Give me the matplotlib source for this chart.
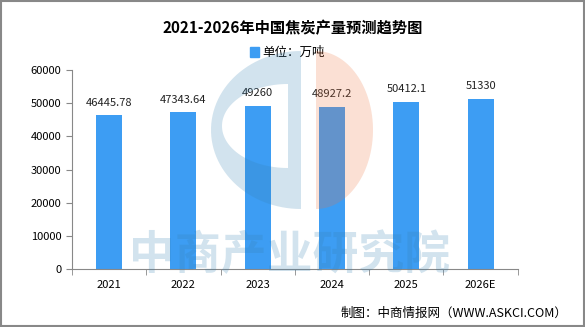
import numpy as np
import matplotlib.pyplot as plt
from matplotlib.patches import Rectangle, Polygon, PathPatch
from matplotlib.path import Path

plt.rcParams['font.family'] = ['Noto Sans CJK SC', 'DejaVu Sans']

years = ['2021', '2022', '2023', '2024', '2025', '2026E']
output = [46445.78, 47343.64, 49260, 48927.2, 50412.1, 51330]
labels = ['46445.78', '47343.64', '49260', '48927.2', '50412.1', '51330']

fig = plt.figure(figsize=(5.85, 3.27), dpi=100)
ax = fig.add_axes([0.123, 0.177, 0.762, 0.609])

x = list(range(len(years)))
ax.bar(x, output, width=0.35, color='#3d9df3', zorder=2)
for xi, v, t in zip(x, output, labels):
    ax.text(xi, v + 2200, t, ha='center', va='bottom', fontsize=8, color='#222222')

ax.set_xlim(-0.5, len(years) - 0.5)
ax.set_ylim(0, 60000)
ax.set_yticks(range(0, 60001, 10000))
ax.set_xticks(x)
ax.set_xticklabels(years, fontsize=8)
ax.set_xticks([i - 0.5 for i in range(len(years) + 1)], minor=True)
ax.tick_params(axis='x', which='major', length=0, pad=8)
ax.tick_params(axis='x', which='minor', length=4, color='#888888')
ax.tick_params(axis='y', labelsize=8, length=4, color='#888888')
for s in ['top', 'right']:
    ax.spines[s].set_visible(False)
ax.spines['left'].set_color('#888888')
ax.spines['bottom'].set_color('#888888')

# watermark logo + text, drawn on top in pixel coords
wm = fig.add_axes([0, 0, 1, 1], zorder=5)
wm.set_xlim(0, 585)
wm.set_ylim(327, 0)
wm.axis('off')
wm.patch.set_alpha(0)

blue = (52/255, 129/255, 178/255)
orange = (237/255, 115/255, 61/255)
t1 = np.linspace(np.pi/2, 3*np.pi/2, 60)
outer = np.column_stack([301 + 90*np.cos(t1), 130 - 79*np.sin(t1)])
outer = np.vstack([outer, [[301, 130 - 79*np.sin(t1[0])]]])
t2 = t1[::-1]
inner = np.column_stack([288 + 66*np.cos(t2), 126 - 42*np.sin(t2)])
inner = np.vstack([inner, inner[:1]])
verts = np.vstack([outer, inner])
codes = ([Path.MOVETO] + [Path.LINETO] * (len(outer) - 1) +
         [Path.MOVETO] + [Path.LINETO] * (len(inner) - 1))
wm.add_patch(PathPatch(Path(verts, codes), facecolor=blue, alpha=0.22, lw=0))
t3 = np.linspace(np.pi/2, -np.pi/2, 60)
half = np.column_stack([316 + 57*np.cos(t3), 130 - 79*np.sin(t3)])
wm.add_patch(Polygon(half, closed=True, facecolor=orange, alpha=0.22, lw=0))
wm.text(290, 256, '中商产业研究院', ha='center', va='center', fontsize=33,
        color=blue, alpha=0.22, fontweight='bold')

fig.text(0.5, 0.915, '2021-2026年中国焦炭产量预测趋势图', ha='center', va='center',
         fontsize=11, fontweight='bold')
fig.patches.append(Rectangle((0.4275, 0.825), 0.016, 0.03, transform=fig.transFigure,
                             color='#3d9df3'))
fig.text(0.448, 0.84, '单位：万吨', ha='left', va='center', fontsize=9)
fig.text(0.97, 0.042, '制图：中商情报网（WWW.ASKCI.COM）', ha='right', va='center', fontsize=9)

fig.patches.append(Rectangle((0.001, 0.002), 0.997, 0.995, transform=fig.transFigure,
                             fill=False, edgecolor='#888888', linewidth=1.5))

fig.savefig('out.png', dpi=100)
